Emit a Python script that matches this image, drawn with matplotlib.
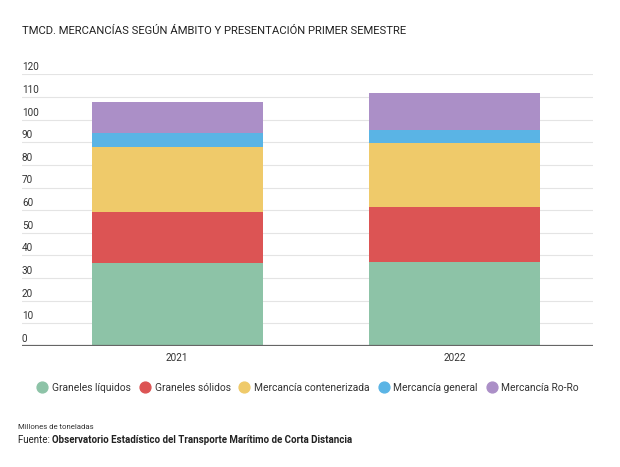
import numpy as np
import matplotlib
matplotlib.use("Agg")
import matplotlib.pyplot as plt
from matplotlib.lines import Line2D

plt.rcParams['font.family'] = ['Roboto', 'DejaVu Sans']

years = ["2021", "2022"]
series = ["Graneles líquidos", "Graneles sólidos", "Mercancía contenerizada",
          "Mercancía general", "Mercancía Ro-Ro"]
liquidos = [36.5, 37.0]
solidos = [22.5, 24.2]
contenerizada = [28.8, 28.5]
general = [6.2, 5.6]
roro = [13.9, 16.6]
colors = ["#8dc3a7", "#dc5454", "#efca6a", "#5ab4e5", "#ab8fc7"]
yticks = [0, 10, 20, 30, 40, 50, 60, 70, 80, 90, 100, 110, 120]

fig = plt.figure(figsize=(6.2, 4.67), dpi=100)
ax = fig.add_axes([22 / 620, 1 - 346 / 467, (593 - 22) / 620, (346 - 74.3) / 467])

x = np.arange(len(years))
bottom = np.zeros(len(years))
for vals, col, name in zip([liquidos, solidos, contenerizada, general, roro], colors, series):
    ax.bar(x, vals, width=0.617, bottom=bottom, color=col, label=name, zorder=2)
    bottom += np.array(vals)

ax.set_ylim(0, 120)
ax.set_xlim(-0.56, 1.5)
for v in yticks[1:]:
    ax.axhline(v, color="#e4e4e4", lw=0.8, zorder=1)
ax.axhline(0, color="#666666", lw=1.6, zorder=3)
for v in yticks:
    ax.text(0, v + 0.9, str(v), transform=ax.get_yaxis_transform(), ha="left", va="bottom",
            fontsize=7.2, color="#333333")

for s in ax.spines.values():
    s.set_visible(False)
ax.set_yticks([])
ax.set_xticks(x)
ax.set_xticklabels(years, fontsize=7.2, color="#333333")
ax.tick_params(axis="x", length=0, pad=5)

fig.text(22 / 620, 1 - 31 / 467, "TMCD. MERCANCÍAS SEGÚN ÁMBITO Y PRESENTACIÓN PRIMER SEMESTRE",
         fontsize=8.1, color="#222222", va="center", ha="left")

handles = [Line2D([], [], marker="o", ls="", markersize=7.8, markerfacecolor=c,
                  markeredgecolor=c) for c in colors]
fig.legend(handles, series, loc="center left", bbox_to_anchor=(33 / 620, 1 - 388 / 467),
           ncol=5, frameon=False, fontsize=7.4, handletextpad=0.45, columnspacing=0.85,
           borderaxespad=0, handlelength=1.0, labelcolor="#333333")

fig.text(18 / 620, 1 - 427 / 467, "Millones de toneladas", fontsize=5.6, color="#333333",
         va="center", ha="left")
t1 = fig.text(18 / 620, 1 - 440 / 467, "Fuente: ", fontsize=7, color="#222222",
              va="center", ha="left")
fig.canvas.draw()
bb = t1.get_window_extent()
fig.text(bb.x1 / 620, 1 - 440 / 467, "Observatorio Estadístico del Transporte Marítimo de Corta Distancia",
         fontsize=7, color="#222222", va="center", ha="left", fontweight="bold")

fig.savefig("out.png", dpi=100)
